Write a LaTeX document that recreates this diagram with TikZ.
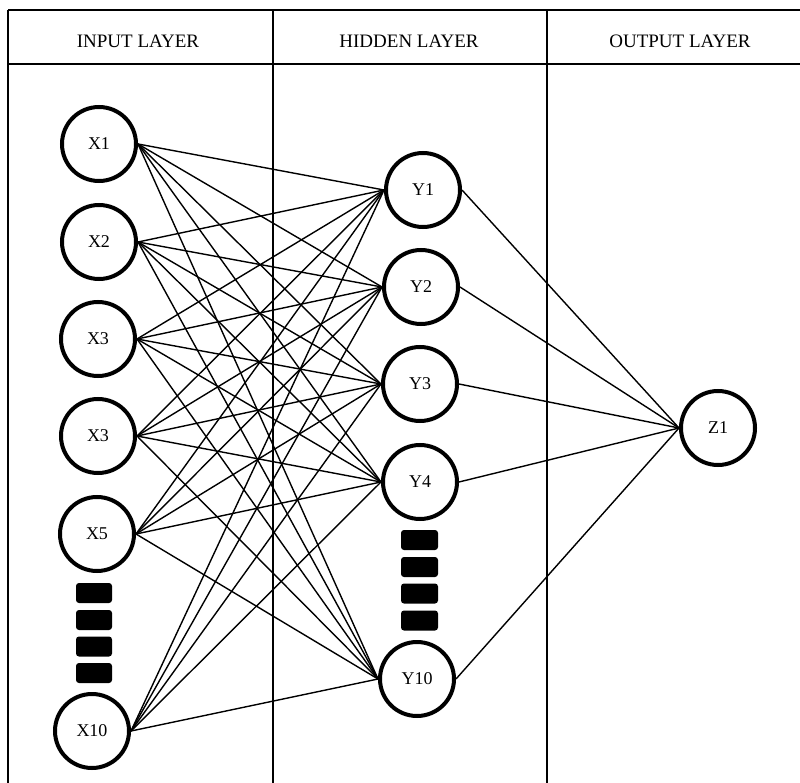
\documentclass[tikz,border=0pt]{standalone}
\usepackage{fontspec}
\setmainfont{Liberation Serif}
\begin{document}
\begin{tikzpicture}[x=1pt,y=-1pt,
  neuron/.style={circle,draw,line width=4pt,minimum size=74pt,inner sep=0pt,
    font=\fontsize{18}{20}\selectfont},
  link/.style={line width=1.4pt},
  frame/.style={line width=2.5pt},
  header/.style={font=\fontsize{19}{21}\selectfont},
  dot/.style={fill=black,rounded corners=3pt}]
\useasboundingbox (0,0) rectangle (800,783);

% table frame
\draw[frame] (8,10) -- (800,10);
\draw[frame] (8,64) -- (800,64);
\draw[frame] (8,10) -- (8,783);
\draw[frame] (273,10) -- (273,783);
\draw[frame] (547,10) -- (547,783);

% column titles
\node[header] (hin)  at (138,41) {INPUT LAYER};
\node[header] (hhid) at (409,41) {HIDDEN LAYER};
\node[header] (hout) at (680,41) {OUTPUT LAYER};

% input layer
\node[neuron] (x1)  at (99,144) {X1};
\node[neuron] (x2)  at (99,242) {X2};
\node[neuron] (x3)  at (98,339) {X3};
\node[neuron] (x4)  at (98,436) {X3};
\node[neuron] (x5)  at (97,534) {X5};
\node[neuron] (x10) at (92,731) {X10};

% hidden layer
\node[neuron] (y1)  at (423,190) {Y1};
\node[neuron] (y2)  at (421,287) {Y2};
\node[neuron] (y3)  at (420,384) {Y3};
\node[neuron] (y4)  at (420,482) {Y4};
\node[neuron] (y10) at (417,679) {Y10};

% output layer
\node[neuron] (z1) at (718,428) {Z1};

% ellipsis blocks
\foreach \yc in {593,620,646.5,673}
  \fill[dot] (76,\yc-10) rectangle (112,\yc+10);
\foreach \yc in {540,567,593.5,620.5}
  \fill[dot] (401,\yc-10) rectangle (438,\yc+10);

% connections input -> hidden
\foreach \a in {x1,x2,x3,x4,x5,x10}
  \foreach \b in {y1,y2,y3,y4,y10}
    \draw[link] (\a.east) -- (\b.west);

% connections hidden -> output
\foreach \b in {y1,y2,y3,y4,y10}
  \draw[link] (\b.east) -- (z1.west);
\end{tikzpicture}
\end{document}
